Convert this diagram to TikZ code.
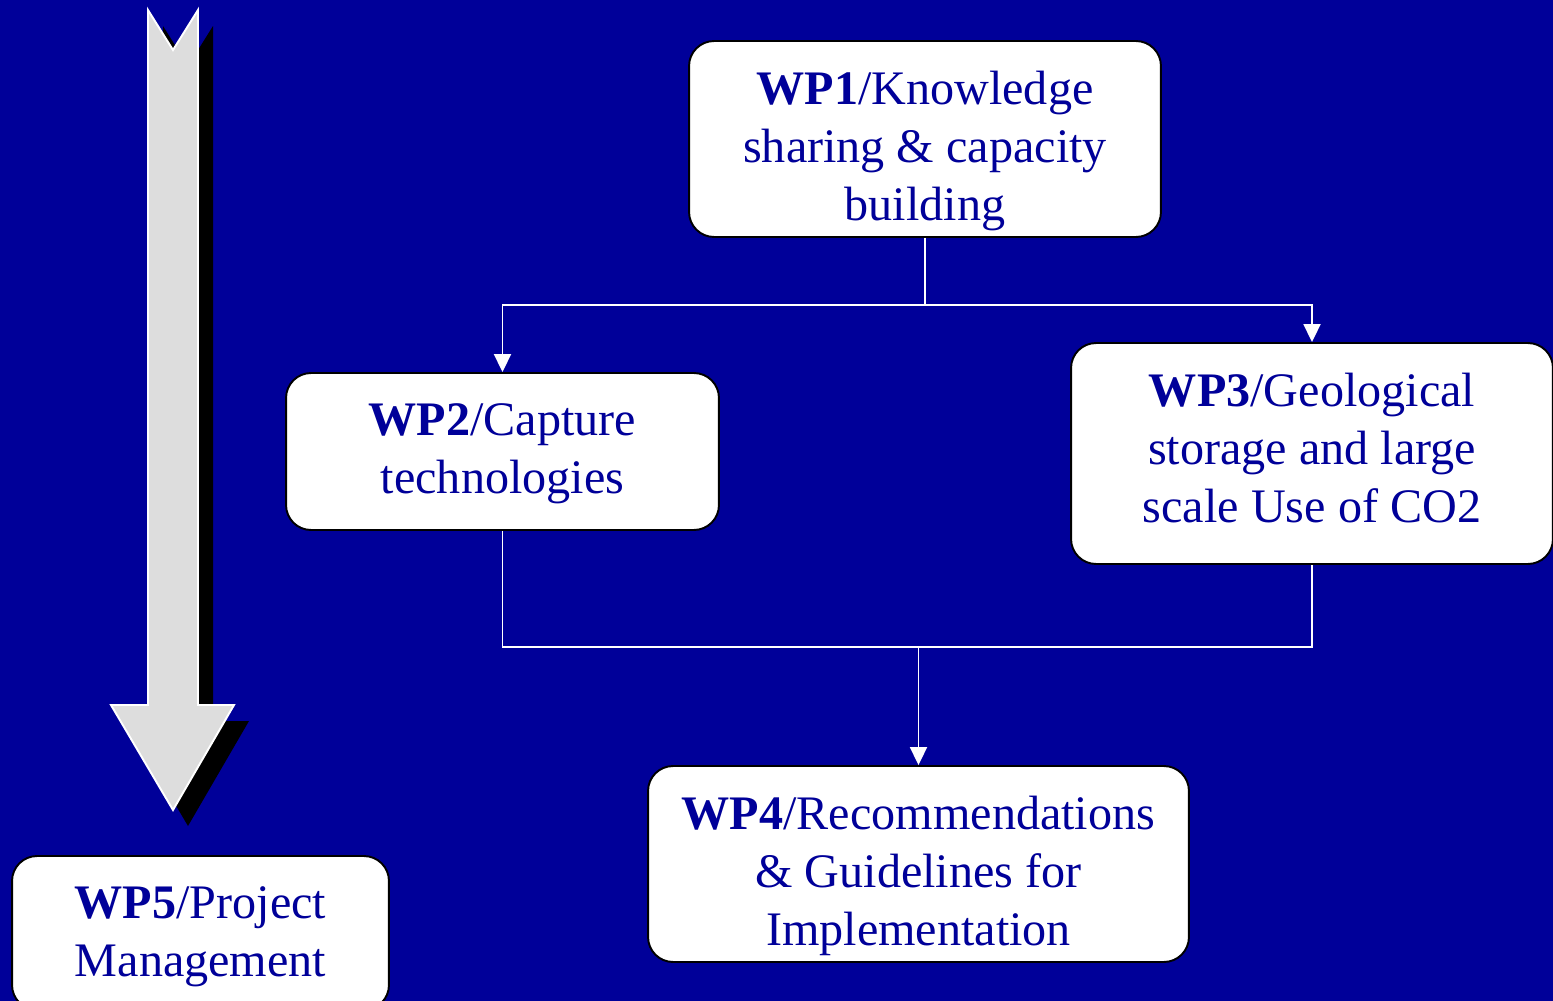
\documentclass[tikz,border=0pt]{standalone}
\usepackage{fontspec}
\setmainfont{Liberation Serif}
\usetikzlibrary{arrows.meta}
\definecolor{slideblue}{RGB}{0,0,153}
\definecolor{arrowgray}{RGB}{221,221,221}
\tikzset{
  wpbox/.style={draw=black, line width=1.1pt, fill=white, rounded corners=0.5cm,
    inner sep=0pt},
  wptext/.style={align=center, text=slideblue, inner sep=0pt,
    font=\fontsize{27.4}{33}\selectfont},
  link/.style={draw=white, line width=1.1pt},
  linkarrow/.style={link, -{Triangle[width=0.34cm,length=0.36cm]}}
}
\begin{document}
\begin{tikzpicture}[x=0.02cm, y=-0.02cm]
  \useasboundingbox[fill=slideblue] (0,0) rectangle (1553,1001);
  % big arrow with shadow
  \fill[black] (163,26) -- (188,66) -- (213,26) -- (213,721) -- (249,721)
    -- (188,826) -- (126,721) -- (163,721) -- cycle;
  \filldraw[fill=arrowgray, draw=white, line width=1.1pt]
    (148,10) -- (173,50) -- (198,10) -- (198,705) -- (234,705)
    -- (173,810) -- (111,705) -- (148,705) -- cycle;
  % work packages
  \node[wpbox, minimum width=9.44cm, minimum height=3.92cm] (wp1) at (925,139) {};
  \node[wptext] (wp1text) at (925,151)
    {\textbf{WP1}/Knowledge\\sharing \& capacity\\building};
  \node[wpbox, minimum width=8.66cm, minimum height=3.14cm] (wp2) at (502.5,451.5) {};
  \node[wptext] (wp2text) at (502.5,453.5)
    {\textbf{WP2}/Capture\\technologies};
  \node[wpbox, minimum width=9.64cm, minimum height=4.42cm] (wp3) at (1312,453.5) {};
  \node[wptext] (wp3text) at (1312,448.5)
    {\textbf{WP3}/Geological\\storage and large\\scale Use of CO2};
  \node[wpbox, minimum width=10.82cm, minimum height=3.92cm] (wp4) at (918.5,864) {};
  \node[wptext] (wp4text) at (918.5,876)
    {\textbf{WP4}/Recommendations\\\& Guidelines for\\Implementation};
  \node[wpbox, minimum width=7.54cm, minimum height=3.08cm] (wp5) at (200.5,933) {};
  \node[wptext] (wp5text) at (200.5,937)
    {\textbf{WP5}/Project\\Management};
  % connectors
  \coordinate (split) at (925,305);
  \coordinate (merge) at (918.5,647);
  \draw[link] (wp1.south) -- (split);
  \draw[linkarrow] (split) -| (wp2.north);
  \draw[linkarrow] (split) -| (wp3.north);
  \draw[link] (wp2.south) |- (merge) -| (wp3.south);
  \draw[linkarrow] (merge) -- (wp4.north);
\end{tikzpicture}
\end{document}
